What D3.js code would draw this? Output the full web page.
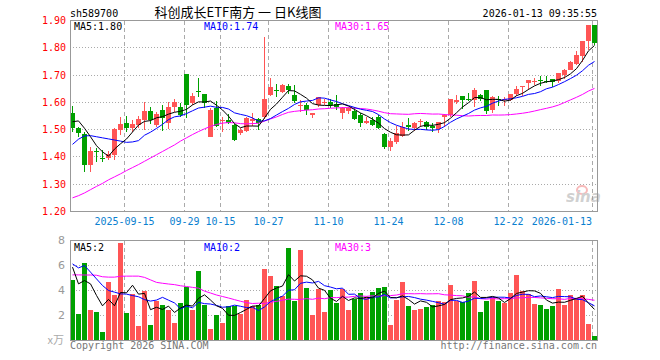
<!DOCTYPE html>
<html>
<head>
<meta charset="utf-8">
<script src="https://cdn.jsdelivr.net/npm/d3@7"></script>
<style>
  body { margin: 0; background: #fff; }
  text { font-family: "DejaVu Sans Mono", monospace; }
</style>
</head>
<body>
<div id="chart"></div>
<script>
// trading days shown on the chart
var dates = [
  "2025-09-02","2025-09-03","2025-09-04","2025-09-05","2025-09-08","2025-09-09","2025-09-10","2025-09-11","2025-09-12",
  "2025-09-15","2025-09-16","2025-09-17","2025-09-18","2025-09-19","2025-09-22","2025-09-23","2025-09-24","2025-09-25","2025-09-26",
  "2025-09-29","2025-09-30","2025-10-09","2025-10-10","2025-10-13","2025-10-14","2025-10-15","2025-10-16","2025-10-17",
  "2025-10-20","2025-10-21","2025-10-22","2025-10-23","2025-10-24","2025-10-27","2025-10-28","2025-10-29","2025-10-30","2025-10-31",
  "2025-11-03","2025-11-04","2025-11-05","2025-11-06","2025-11-07","2025-11-10","2025-11-11","2025-11-12","2025-11-13","2025-11-14",
  "2025-11-17","2025-11-18","2025-11-19","2025-11-20","2025-11-21","2025-11-24","2025-11-25","2025-11-26","2025-11-27","2025-11-28",
  "2025-12-01","2025-12-02","2025-12-03","2025-12-04","2025-12-05","2025-12-08","2025-12-09","2025-12-10","2025-12-11","2025-12-12",
  "2025-12-15","2025-12-16","2025-12-17","2025-12-18","2025-12-19","2025-12-22","2025-12-23","2025-12-24","2025-12-25","2025-12-26",
  "2025-12-29","2025-12-30","2025-12-31","2026-01-05","2026-01-06","2026-01-07","2026-01-08","2026-01-09","2026-01-12","2026-01-13"
];

var open = [
  1.562,1.505,1.484,1.371,1.423,1.395,1.395,1.407,1.499,1.526,
  1.505,1.517,1.535,1.568,1.517,1.572,1.526,1.584,1.582,1.704,
  1.596,1.643,1.630,1.472,1.578,1.532,1.537,1.517,1.487,1.495,
  1.533,1.538,1.545,1.627,1.644,1.639,1.660,1.627,1.589,1.590,
  1.554,1.590,1.599,1.602,1.595,1.562,1.569,1.570,1.554,1.523,
  1.535,1.545,1.484,1.435,1.454,1.478,1.517,1.507,1.528,1.529,
  1.513,1.501,1.545,1.552,1.600,1.625,1.611,1.607,1.628,1.647,
  1.573,1.611,1.611,1.610,1.631,1.658,1.671,1.677,1.682,1.679,
  1.686,1.677,1.702,1.720,1.741,1.769,1.825,1.883
];
var high = [
  1.587,1.510,1.493,1.435,1.432,1.426,1.420,1.507,1.548,1.551,
  1.535,1.550,1.600,1.584,1.566,1.590,1.600,1.611,1.599,1.704,
  1.633,1.690,1.630,1.578,1.606,1.546,1.559,1.520,1.506,1.548,
  1.562,1.542,1.838,1.690,1.667,1.669,1.666,1.663,1.609,1.599,
  1.562,1.621,1.611,1.614,1.628,1.584,1.584,1.584,1.560,1.548,
  1.545,1.554,1.486,1.468,1.513,1.529,1.541,1.529,1.538,1.533,
  1.523,1.529,1.557,1.613,1.628,1.625,1.634,1.653,1.631,1.647,
  1.622,1.622,1.618,1.632,1.661,1.661,1.683,1.688,1.698,1.696,
  1.686,1.706,1.723,1.751,1.788,1.825,1.882,1.883
];
var low = [
  1.493,1.474,1.346,1.346,1.383,1.383,1.390,1.389,1.480,1.493,
  1.490,1.507,1.499,1.520,1.511,1.495,1.501,1.566,1.545,1.541,
  1.590,1.620,1.578,1.472,1.511,1.490,1.520,1.460,1.479,1.493,
  1.515,1.499,1.540,1.623,1.621,1.633,1.632,1.599,1.566,1.554,
  1.544,1.584,1.590,1.578,1.572,1.540,1.556,1.535,1.511,1.521,
  1.513,1.501,1.428,1.420,1.448,1.474,1.494,1.494,1.511,1.499,
  1.490,1.487,1.508,1.548,1.595,1.575,1.604,1.583,1.604,1.558,
  1.561,1.585,1.585,1.604,1.625,1.622,1.647,1.664,1.661,1.671,
  1.656,1.671,1.686,1.718,1.736,1.747,1.791,1.809
];
var close = [
  1.505,1.489,1.371,1.423,1.418,1.392,1.410,1.501,1.520,1.505,
  1.520,1.538,1.568,1.535,1.556,1.541,1.584,1.602,1.554,1.590,
  1.623,1.640,1.599,1.572,1.513,1.537,1.526,1.462,1.497,1.544,
  1.538,1.523,1.612,1.655,1.642,1.662,1.645,1.606,1.592,1.572,
  1.562,1.618,1.600,1.590,1.584,1.580,1.578,1.538,1.526,1.533,
  1.517,1.505,1.438,1.459,1.487,1.511,1.509,1.523,1.530,1.511,
  1.505,1.529,1.553,1.612,1.610,1.610,1.609,1.647,1.612,1.569,
  1.618,1.609,1.614,1.632,1.649,1.661,1.681,1.679,1.679,1.677,
  1.675,1.706,1.718,1.747,1.772,1.825,1.882,1.816
];
// volume, in 万
var volume = [
  4.88,2.13,6.21,2.48,2.32,0.72,4.72,3.65,7.79,2.19,
  3.76,1.15,3.95,1.28,3.15,2.88,2.48,1.44,3.04,4.32,
  2.48,5.55,2.88,0.96,2.03,1.44,2.80,2.80,2.13,3.28,
  2.75,2.88,5.76,5.20,4.40,3.55,7.44,3.20,7.28,4.24,
  2.08,4.16,2.32,4.08,2.99,4.13,2.48,3.36,3.84,3.47,
  3.92,4.24,4.32,1.28,3.28,4.72,2.80,2.48,2.56,2.72,
  2.88,3.20,3.07,4.48,3.20,3.07,3.84,4.80,2.32,3.20,
  3.47,3.20,3.04,3.84,5.28,4.00,3.76,2.96,2.88,2.56,
  2.80,4.16,2.88,3.68,3.31,3.68,1.36,0.40
];

var ma5Head = [1.529,1.532,1.505,1.474];
var ma10Head = [1.446,1.465,1.477,1.478,1.474,1.470,1.466,1.462,1.458];
var ma30Head = [1.250,1.258,1.268,1.280,1.292,1.303,1.316,1.327,1.338,1.350,
                1.361,1.372,1.384,1.396,1.408,1.420,1.432,1.444,1.458,1.470,
                1.482,1.493,1.503,1.512,1.519,1.524,1.526,1.525,1.522];
var vma5Head = [5.87,4.53,4.80,4.53];
var vma10Head = [6.13,5.81,6.00,5.47,4.93,4.40,4.00,3.87,3.73];
var vma30Head = [5.25,5.25,5.24,5.24,5.22,5.10,5.07,5.07,5.14,5.15,
                 5.15,5.15,5.05,4.85,4.65,4.58,4.52,4.47,4.38,4.32,
                 4.25,4.19,3.95,3.80,3.64,3.52,3.40,3.27,3.14];

var tickDates = ["2025-09-15","2025-09-29","2025-10-15","2025-10-27","2025-11-10","2025-11-24","2025-12-08","2025-12-22","2026-01-13"];
var tickLabels = ["2025-09-15","09-29","10-15","10-27","11-10","11-24","12-08","12-22","2026-01-13"];
var priceTicks = [1.20,1.30,1.40,1.50,1.60,1.70,1.80,1.90];
var volTicks = [2,4,6,8];
var maLegend = ["MA5:1.80","MA10:1.74","MA30:1.65"];
var volLegend = ["MA5:2","MA10:2","MA30:3"];
var maColors = ["#000000","#0000ff","#ff00ff"];

var width = 660, height = 360;
var left = 70, right = 598;
var RED = "#ff5555", GREEN = "#00a000";

var svg = d3.select("#chart").append("svg")
  .attr("width", width).attr("height", height);

var x = d3.scaleBand().domain(dates).range([left, right]).padding(0);
var y = d3.scaleLinear().domain([1.2, 1.9]).range([211.5, 20.5]);
var yv = d3.scaleLinear().domain([0, 8]).range([340.5, 240.5]);

function movingAvg(arr, n, head) {
  return arr.map(function(v, i) {
    if (i < head.length) return head[i];
    return d3.mean(arr.slice(i - n + 1, i + 1));
  });
}

var ma = [movingAvg(close, 5, ma5Head), movingAvg(close, 10, ma10Head), movingAvg(close, 30, ma30Head)];
var vma = [movingAvg(volume, 5, vma5Head), movingAvg(volume, 10, vma10Head), movingAvg(volume, 30, vma30Head)];

var candles = dates.map(function(d, i) {
  return { date: d, o: open[i], h: high[i], l: low[i], c: close[i], v: volume[i], up: close[i] >= open[i] };
});

// header
svg.append("text").attr("x", 70).attr("y", 17).attr("font-size", 10).text("sh589700");
svg.append("text").attr("x", 238).attr("y", 17).attr("text-anchor", "middle")
  .attr("font-size", 13).style("font-family", '"Noto Sans CJK SC", sans-serif')
  .text("科创成长ETF南方 一 日K线图");
svg.append("text").attr("x", 597).attr("y", 17).attr("text-anchor", "end")
  .attr("font-size", 10).text("2026-01-13 09:35:55");

// grids
function panel(top, bottom, hTicks, ys) {
  var g = svg.append("g").attr("shape-rendering", "crispEdges");
  g.selectAll(".hg").data(hTicks).enter().append("line")
    .attr("x1", left).attr("x2", right - 1)
    .attr("y1", function(d) { return Math.floor(ys(d)) + 0.5; })
    .attr("y2", function(d) { return Math.floor(ys(d)) + 0.5; })
    .attr("stroke", "#aaaaaa").attr("stroke-dasharray", "1,2");
  g.selectAll(".vg").data(tickDates).enter().append("line")
    .attr("x1", function(d) { return x(d) + 0.5; })
    .attr("x2", function(d) { return x(d) + 0.5; })
    .attr("y1", top).attr("y2", bottom)
    .attr("stroke", "#aaaaaa").attr("stroke-dasharray", "4,3");
}
panel(21, 211, [1.3, 1.4, 1.5, 1.6, 1.7, 1.8], y);
panel(241, 340, [2, 4, 6], yv);

// price axis labels
svg.selectAll(".py").data(priceTicks).enter().append("text")
  .attr("x", 66).attr("y", function(d) { return y(d); }).attr("dy", "0.35em")
  .attr("text-anchor", "end").attr("font-size", 10).attr("fill", "#ff0000")
  .text(function(d) { return d.toFixed(2); });

// date labels
svg.selectAll(".xl").data(tickDates).enter().append("text")
  .attr("x", function(d, i) { return x(d) + (i === tickDates.length - 1 ? 0 : 0.5); })
  .attr("y", 225)
  .attr("text-anchor", function(d, i) { return i === tickDates.length - 1 ? "end" : "middle"; })
  .attr("font-size", 10).attr("fill", "#0a80d0")
  .text(function(d, i) { return tickLabels[i]; });

// volume axis labels
svg.selectAll(".vy").data(volTicks).enter().append("text")
  .attr("x", 65).attr("y", function(d) { return yv(d); }).attr("dy", "0.35em")
  .attr("text-anchor", "end").attr("font-size", 11).attr("fill", "#999999")
  .style("font-family", "DejaVu Sans, sans-serif")
  .text(function(d) { return d; });
svg.append("text").attr("x", 64).attr("y", 344).attr("text-anchor", "end")
  .attr("font-size", 11).attr("fill", "#aaaaaa")
  .style("font-family", '"Noto Sans CJK SC", sans-serif').text("x万");

// sina watermark
var wm = svg.append("g").attr("opacity", 0.45);
wm.append("ellipse").attr("cx", 582).attr("cy", 190).attr("rx", 5).attr("ry", 4)
  .attr("fill", "none").attr("stroke", "#ee6666").attr("stroke-width", 2);
wm.append("text").attr("x", 566).attr("y", 202).attr("font-size", 15)
  .style("font-family", "DejaVu Sans, sans-serif").attr("font-style", "italic")
  .attr("font-weight", "bold").attr("fill", "#999999").text("sina");

// candles
var cg = svg.append("g").attr("shape-rendering", "crispEdges");
cg.selectAll(".wick").data(candles).enter().append("line")
  .attr("x1", function(d) { return x(d.date) + 2.5; })
  .attr("x2", function(d) { return x(d.date) + 2.5; })
  .attr("y1", function(d) { return y(d.h); })
  .attr("y2", function(d) { return y(d.l); })
  .attr("stroke", function(d) { return d.up ? RED : GREEN; });
cg.selectAll(".body").data(candles).enter().append("rect")
  .attr("x", function(d) { return x(d.date); })
  .attr("width", 5)
  .attr("y", function(d) { return y(Math.max(d.o, d.c)); })
  .attr("height", function(d) { return Math.max(1, Math.abs(y(d.o) - y(d.c))); })
  .attr("fill", function(d) { return d.up ? RED : GREEN; });

// volume bars
cg.selectAll(".vol").data(candles).enter().append("rect")
  .attr("x", function(d) { return x(d.date); })
  .attr("width", 5)
  .attr("y", function(d) { return yv(d.v); })
  .attr("height", function(d) { return yv(0) - yv(d.v); })
  .attr("fill", function(d) { return d.up ? RED : GREEN; });

// moving average lines
var lineP = d3.line().x(function(d, i) { return x(dates[i]) + 2.5; }).y(function(d) { return y(d); });
var lineV = d3.line().x(function(d, i) { return x(dates[i]) + 2.5; }).y(function(d) { return yv(d); });
[2, 1, 0].forEach(function(k) {
  svg.append("path").attr("d", lineP(ma[k])).attr("fill", "none")
    .attr("stroke", maColors[k]).attr("stroke-width", 1);
  svg.append("path").attr("d", lineV(vma[k])).attr("fill", "none")
    .attr("stroke", maColors[k]).attr("stroke-width", 1);
});

// frames
svg.append("rect").attr("x", 70.5).attr("y", 20.5).attr("width", 527).attr("height", 191)
  .attr("fill", "none").attr("stroke", "#999999").attr("shape-rendering", "crispEdges");
svg.append("rect").attr("x", 70.5).attr("y", 240.5).attr("width", 527).attr("height", 100)
  .attr("fill", "none").attr("stroke", "#999999").attr("shape-rendering", "crispEdges");

// legends
var legX = [74, 204, 335];
maLegend.forEach(function(t, k) {
  svg.append("text").attr("x", legX[k]).attr("y", 30).attr("font-size", 10)
    .attr("fill", maColors[k]).text(t);
});
volLegend.forEach(function(t, k) {
  svg.append("text").attr("x", legX[k]).attr("y", 251).attr("font-size", 10)
    .attr("fill", maColors[k]).text(t);
});

// footer
svg.append("text").attr("x", 70).attr("y", 349).attr("font-size", 10).attr("fill", "#777777")
  .text("Copyright 2026 SINA.COM");
svg.append("text").attr("x", 597).attr("y", 349).attr("text-anchor", "end").attr("font-size", 10)
  .attr("fill", "#777777").text("http://finance.sina.com.cn");
</script>
</body>
</html>
